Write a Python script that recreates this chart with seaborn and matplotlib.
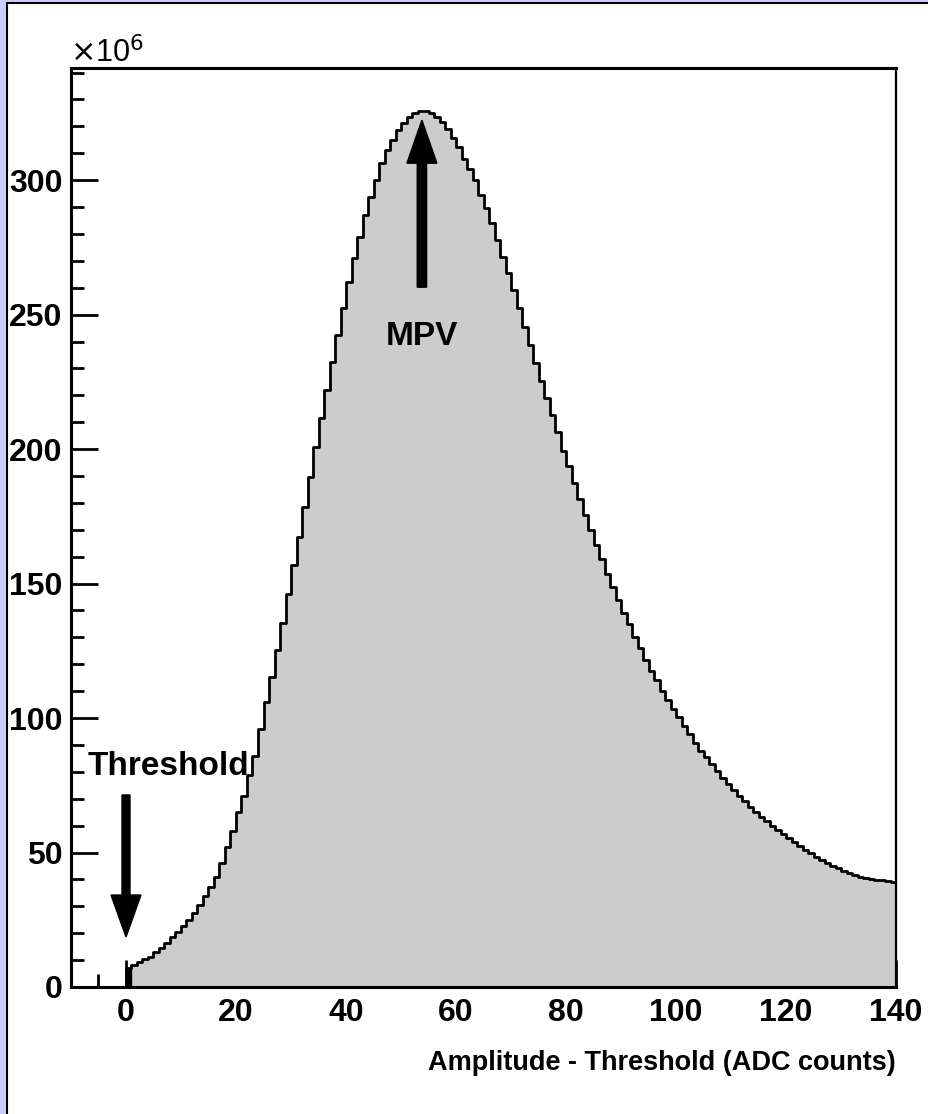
import numpy as np
import pandas as pd
import seaborn as sns
from matplotlib import pyplot as plt
from matplotlib.patches import Rectangle
from matplotlib.ticker import MultipleLocator

### histogram contents (units of 10^6), one value per 1-count bin starting at 0

counts_rise = [7, 8.2, 9.4, 10.3, 11.3, 13.1, 14.4, 16.2, 18.7, 20.6,
               22.5, 25, 27.5, 30.5, 34, 37, 41, 46, 52, 58,
               65, 71, 79, 86, 96, 106, 115.4, 125.3, 135.2, 146.3,
               156.9, 167.4, 178.6, 189.7, 200.9, 211.4, 221.9, 232.5, 242.4, 252.3,
               262, 270.9, 279]
counts_peak = [287, 293.6, 300, 306.2, 311.2, 314.9, 318.6, 321.1, 323.5, 324.8,
               325.6, 325.6, 324.8, 323.5, 321.7, 319.2, 315.5, 312.4, 308, 304.3,
               300, 294.4, 289.5, 283.9, 277.7, 271.5, 265.3, 259.1, 252.3, 245.5]
counts_fall = [238.7, 232.1, 225.3, 219.1, 212.6, 206.2, 199.4, 193.8, 187.5, 181.3,
               175.5, 169.9, 164.3, 159.2, 153.5, 148.6, 143.9, 139.2, 135, 130.2,
               125.9, 121.6, 117.6, 114.1, 110.1, 106.7, 103.4, 100.4, 97]
counts_tail = [93.9, 90.6, 87.9, 85.4, 82.8, 80.3, 77.8, 75.5, 73.2, 71.1,
               69.1, 67, 65.2, 63.3, 61.7, 60, 58.4, 56.8, 55.3, 53.8,
               52.4, 50.9, 49.7, 48.4, 47.2, 46.2, 45.1, 44.1, 43.2, 42.4,
               41.6, 41, 40.5, 40.1, 39.8, 39.6, 39.4, 39.2]

counts = counts_rise + counts_peak + counts_fall + counts_tail
nbins = len(counts)
df = pd.DataFrame({'amp': np.arange(nbins) + 0.5, 'n': counts})

mpv = 53.8
threshold = 0

# ---------------------------------------- #

sns.set_style('ticks')
plt.rcParams['font.family'] = ['Liberation Sans', 'DejaVu Sans']
plt.rcParams['text.color'] = 'black'
plt.rcParams['axes.labelcolor'] = 'black'

fig = plt.figure(figsize=(9.29, 11.14), dpi=100, facecolor='#ccccff')
fig.add_artist(Rectangle((7/929, -0.01), 1.02, 1.01 - 3/1114,
                         transform=fig.transFigure, facecolor='white',
                         edgecolor='black', lw=1.5, zorder=-1))
ax = fig.add_axes([71/929, 127/1114, 825/929, 919/1114])

sns.histplot(data=df, x='amp', weights='n', binwidth=1, binrange=(0, nbins),
             element='step', fill=True, color='#cccccc', alpha=1,
             edgecolor='black', linewidth=2, ax=ax)
ax.bar(0, counts[0], width=1, align='edge', color='black', edgecolor='black', zorder=3)

ax.set_xlim(-10, 140)
ax.set_ylim(0, 341.7)
ax.xaxis.set_major_locator(MultipleLocator(20))
ax.xaxis.set_minor_locator(MultipleLocator(5))
ax.yaxis.set_major_locator(MultipleLocator(50))
ax.yaxis.set_minor_locator(MultipleLocator(10))
ax.tick_params(which='both', direction='in', top=False, right=False, width=2,
               color='black', labelcolor='black')
ax.tick_params(which='major', length=19.5, labelsize=23)
ax.tick_params(which='minor', length=9.5)
ax.tick_params(axis='x', pad=8)
ax.tick_params(axis='y', pad=6)
for lab in ax.get_xticklabels() + ax.get_yticklabels():
    lab.set_fontweight('bold')
for s in ['left', 'bottom', 'top']:
    ax.spines[s].set_linewidth(2.2)
ax.spines['right'].set_linewidth(1.6)
for s in ax.spines.values():
    s.set_color('black')

ax.set_ylabel('')
ax.set_xlabel('Amplitude - Threshold (ADC counts)', loc='right', fontsize=19.5,
              fontweight='bold', labelpad=16)

fig.text(70/929, (1114-62)/1114, r'$\times$10$^{6}$', fontsize=22, ha='left', va='baseline')

### annotations

ax.text(-6.9, 78.8, 'Threshold', fontsize=24, fontweight='bold', ha='left', va='baseline')
ax.arrow(threshold, 71.4, 0, 18.6 - 71.4, width=1.45, head_width=5.45, head_length=15.6,
         length_includes_head=True, color='black')

ax.text(mpv, 238.7, 'MPV', fontsize=24, fontweight='bold', ha='center', va='baseline')
ax.arrow(mpv, 260.2, 0, 322.3 - 260.2, width=1.7, head_width=5.45, head_length=16,
         length_includes_head=True, color='black')

plt.savefig('out.png', dpi=100, facecolor=fig.get_facecolor())
